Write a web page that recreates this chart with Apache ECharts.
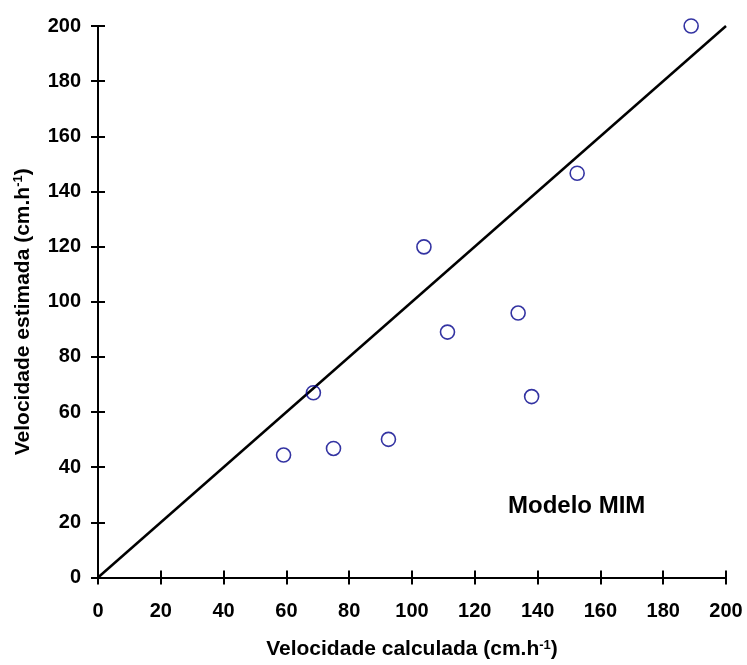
<!DOCTYPE html>
<html>
<head>
<meta charset="utf-8">
<style>
  html, body { margin: 0; padding: 0; background: #fff; }
  #chart { width: 747px; height: 665px; }
</style>
<script src="https://cdn.jsdelivr.net/npm/echarts@6/dist/echarts.min.js"></script>
</head>
<body>
<div id="chart"></div>
<script>
// Calculated vs. estimated velocity (cm.h-1), MIM model
const calculada = [59.1, 68.6, 75.0, 92.5, 103.8, 111.3, 133.8, 138.1, 152.6, 188.9];
const estimada  = [44.4, 67.0, 46.8, 50.1, 119.9, 89.0, 95.9, 65.6, 146.6, 200.0];
// 1:1 reference line
const linhaX = [0, 200];
const linhaY = [0, 200];
const axisTicks = [0, 20, 40, 60, 80, 100, 120, 140, 160, 180, 200];

const FONT = '"Liberation Sans", Arial, sans-serif';
const pontos = calculada.map((x, i) => [x, estimada[i]]);
const linha = linhaX.map((x, i) => [x, linhaY[i]]);

const chart = echarts.init(document.getElementById('chart'), null, { renderer: 'canvas' });

const baseAxis = {
  min: axisTicks[0],
  max: axisTicks[axisTicks.length - 1],
  interval: axisTicks[1] - axisTicks[0],
  splitLine: { show: false },
  axisLine: { show: true, onZero: false, lineStyle: { color: '#000', width: 2 } },
  axisTick: { show: true, length: 7, lineStyle: { color: '#000', width: 2 } }
};

// superscript "-1" in the unit of both axis titles
const richSup = {
  t: { fontFamily: FONT, fontWeight: 'bold', fontSize: 21, color: '#000' },
  sup: { fontFamily: FONT, fontWeight: 'bold', fontSize: 13, color: '#000', verticalAlign: 'top', padding: [0, 0, 9, 0] }
};

chart.setOption({
  animation: false,
  backgroundColor: '#fff',
  grid: { left: 98, right: 21, top: 26, bottom: 81, containLabel: false },
  xAxis: [
    Object.assign({}, baseAxis, {
      type: 'value',
      position: 'bottom',
      axisLabel: { margin: 24, fontFamily: FONT, fontWeight: 'bold', fontSize: 20, color: '#000' },
      name: '{t|Velocidade calculada (cm.h}{sup|-1}{t|)}',
      nameLocation: 'middle',
      nameGap: 61,
      nameTextStyle: { rich: richSup }
    }),
    // second copy of the axis draws the inward half of the crossing ticks
    Object.assign({}, baseAxis, {
      type: 'value',
      position: 'bottom',
      axisTick: { show: true, inside: true, length: 7, lineStyle: { color: '#000', width: 2 } },
      axisLabel: { show: false }
    })
  ],
  yAxis: [
    Object.assign({}, baseAxis, {
      type: 'value',
      position: 'left',
      axisLabel: { margin: 17, fontFamily: FONT, fontWeight: 'bold', fontSize: 20, color: '#000' },
      name: '{t|Velocidade estimada (cm.h}{sup|-1}{t|)}',
      nameLocation: 'middle',
      nameGap: 64,
      nameRotate: 90,
      nameTextStyle: { rich: richSup, padding: [0, 20, 0, 0] }
    }),
    Object.assign({}, baseAxis, {
      type: 'value',
      position: 'left',
      axisTick: { show: true, inside: true, length: 7, lineStyle: { color: '#000', width: 2 } },
      axisLabel: { show: false }
    })
  ],
  series: [
    {
      name: '1:1',
      type: 'line',
      data: linha,
      showSymbol: false,
      symbol: 'none',
      lineStyle: { color: '#000', width: 2.5 },
      z: 2
    },
    {
      name: 'Modelo MIM',
      type: 'scatter',
      data: pontos,
      symbol: 'circle',
      symbolSize: 14,
      itemStyle: { color: 'rgba(0,0,0,0)', borderColor: '#00008b', borderWidth: 1.6 },
      z: 3
    }
  ],
  graphic: [
    {
      type: 'text',
      left: 508,
      top: 494,
      style: {
        text: 'Modelo MIM',
        fontFamily: FONT,
        fontWeight: 'bold',
        fontSize: 24,
        fill: '#000'
      }
    }
  ]
});
</script>
</body>
</html>
